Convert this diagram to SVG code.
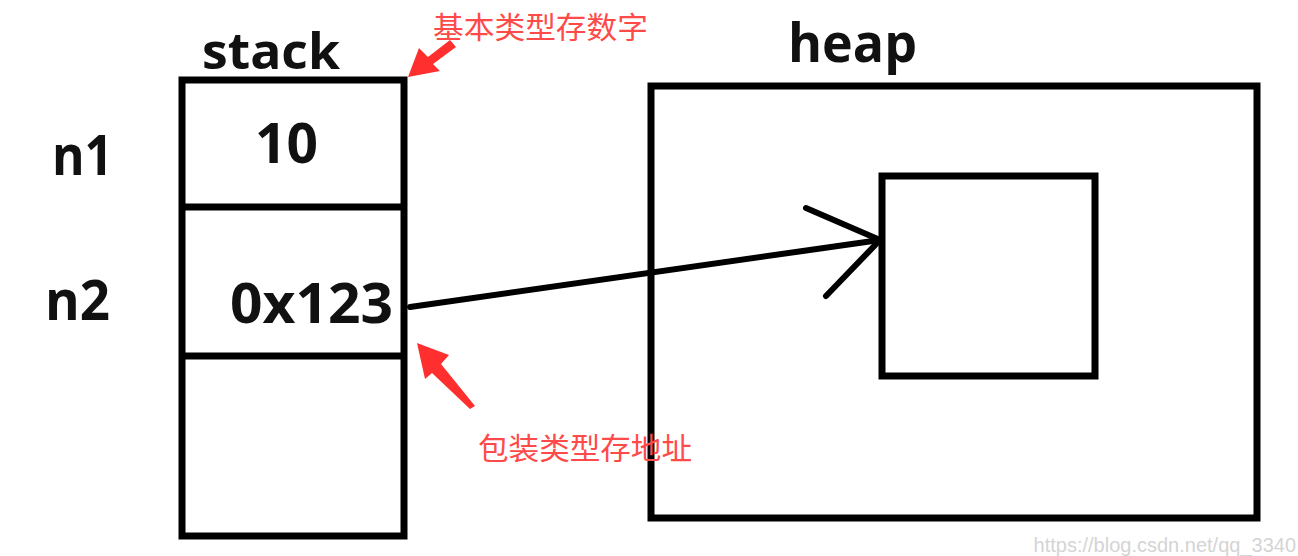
<svg xmlns="http://www.w3.org/2000/svg" width="1298" height="556" viewBox="0 0 1298 556">
<style>
.box{fill:none;stroke:#000;stroke-width:7}
.lbl{font-family:"Open Sans","Liberation Sans",sans-serif;font-weight:bold;fill:#111}
.red{font-family:"Noto Sans CJK SC","Noto Sans",sans-serif;fill:#ff4a4a;font-size:30px}
.ra{fill:#ff2f2f}
</style>
<rect width="1298" height="556" fill="#fff"/>
<g id="stack">
<text class="lbl" x="202" y="69" font-size="50" textLength="138" lengthAdjust="spacingAndGlyphs">stack</text>
<rect class="box" x="182" y="80" width="222" height="456"/>
<line class="box" x1="182" y1="207" x2="404" y2="207"/>
<line class="box" x1="182" y1="356" x2="404" y2="356"/>
</g>
<g id="n1">
<text class="lbl" x="52" y="175" font-size="56" textLength="61" lengthAdjust="spacingAndGlyphs">n1</text>
<text class="lbl" x="255" y="163" font-size="56" textLength="63" lengthAdjust="spacingAndGlyphs">10</text>
</g>
<g id="n2">
<text class="lbl" x="45" y="320" font-size="56" textLength="65" lengthAdjust="spacingAndGlyphs">n2</text>
<text class="lbl" x="230" y="323" font-size="56" textLength="163" lengthAdjust="spacingAndGlyphs">0x123</text>
</g>
<g id="heap">
<text class="lbl" x="788" y="62" font-size="54" textLength="129" lengthAdjust="spacingAndGlyphs">heap</text>
<rect class="box" x="651" y="86" width="606" height="432"/>
</g>
<g id="object">
<rect class="box" x="882" y="176" width="213" height="200"/>
</g>
<g id="connectors">
<path d="M410 307 L880 240" fill="none" stroke="#000" stroke-width="6" stroke-linecap="round"/>
<path d="M806 208 L880 240 L826 296" fill="none" stroke="#000" stroke-width="6" stroke-linecap="round" stroke-linejoin="round"/>
<path class="ra" d="M408 77 L419 48 L428 57 L450 40 L456 47 L433 64 L440 71 Z"/>
<path class="ra" d="M417 343 L449 355 L441 364 L475 406 L470 409 L432 373 L425 379 Z"/>
</g>
<g id="notes">
<text class="red" x="433" y="38" textLength="215" lengthAdjust="spacingAndGlyphs">基本类型存数字</text>
<text class="red" x="478" y="459" textLength="214" lengthAdjust="spacingAndGlyphs">包装类型存地址</text>
</g>
<text x="1296" y="552" text-anchor="end" font-family="Liberation Sans,sans-serif" font-size="20" fill="#d4d4d4">https://blog.csdn.net/qq_3340</text>
</svg>
